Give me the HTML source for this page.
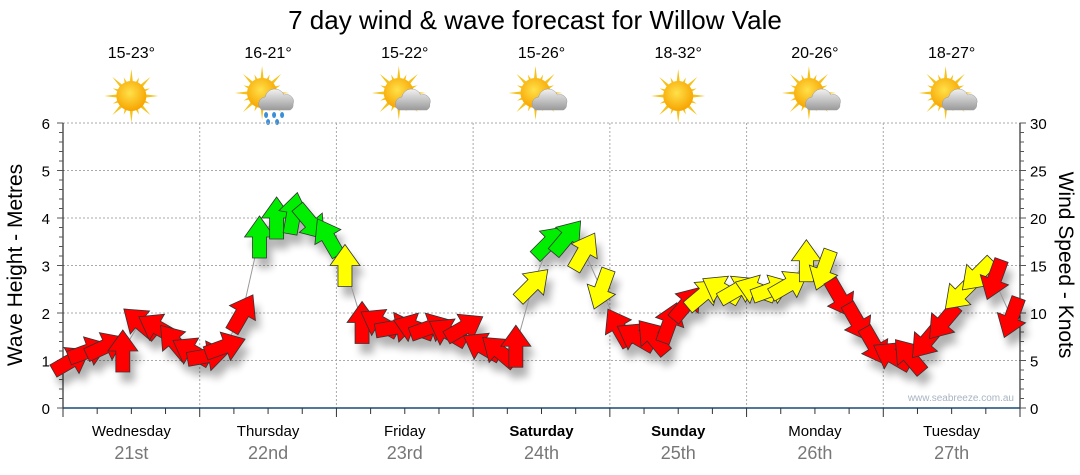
<!DOCTYPE html>
<html><head><meta charset="utf-8"><style>
html,body{margin:0;padding:0;background:#fff;}
body{width:1080px;height:475px;overflow:hidden;font-family:"Liberation Sans",sans-serif;}
svg{display:block}
</style></head><body>
<svg id="chart" width="1080" height="475" xmlns="http://www.w3.org/2000/svg">
<defs>
<filter id="sh" x="-50%" y="-50%" width="200%" height="200%"><feGaussianBlur stdDeviation="4"/></filter>
<radialGradient id="sunG" cx="45%" cy="40%" r="60%"><stop offset="0" stop-color="#ffe14a"/><stop offset="1" stop-color="#f7a400"/></radialGradient>
<linearGradient id="cloudG" x1="0" y1="0" x2="0" y2="1"><stop offset="0" stop-color="#f2f2f2"/><stop offset="1" stop-color="#9a9a9a"/></linearGradient>
</defs>
<text x="535" y="29" font-size="26" text-anchor="middle" fill="#000">7 day wind &amp; wave forecast for Willow Vale</text>
<g id="icons"></g>
<g id="grid"></g>
<g id="axes"></g>
<g id="shadows" filter="url(#sh)" opacity="0.3"></g>
<polyline id="waveLine" fill="none" stroke="#999" stroke-width="1"/>
<g id="arrows"></g>
<text x="1014" y="401" font-size="10" text-anchor="end" fill="#a8b4c4">www.seabreeze.com.au</text>
<text transform="translate(22,265) rotate(-90)" font-size="21" text-anchor="middle">Wave Height - Metres</text>
<text transform="translate(1059,265) rotate(90)" font-size="21" text-anchor="middle">Wind Speed - Knots</text>
</svg>
<script>
const days=["Wednesday","Thursday","Friday","Saturday","Sunday","Monday","Tuesday"];
const dates=["21st","22nd","23rd","24th","25th","26th","27th"];
const boldDays=[false,false,false,true,true,false,false];
const temps=["15-23°","16-21°","15-22°","15-26°","18-32°","20-26°","18-27°"];
const weather=["sun","rain","cloud","cloud","sun","cloud","cloud"];
const waveH=[1.0,1.2,1.3,1.2,1.8,1.7,1.4,1.2,
 1.1,1.3,2.0,3.6,4.0,4.1,3.9,3.6,
 3.0,1.8,1.8,1.7,1.7,1.7,1.6,1.7,
 1.3,1.2,1.3,2.6,3.5,3.6,3.3,2.5,
 1.7,1.5,1.5,1.8,2.2,2.4,2.5,2.5,
 2.5,2.5,2.6,3.1,2.9,2.3,1.8,1.3,
 1.1,1.1,1.4,1.8,2.4,2.8,2.7,1.9];
const windDir=[60,70,65,0,310,300,320,300,
 80,70,30,0,0,10,140,330,
 0,0,300,80,290,70,300,60,
 300,310,0,45,45,40,30,200,
 330,300,320,20,40,50,300,60,
 290,70,60,0,200,150,150,150,
 300,320,220,220,225,225,200,200];
const windCat=["R","R","R","R","R","R","R","R",
 "R","R","R","G","G","G","G","G",
 "Y","R","R","R","R","R","R","R",
 "R","R","R","Y","G","G","Y","Y",
 "R","R","R","R","R","Y","Y","Y",
 "Y","Y","Y","Y","Y","R","R","R",
 "R","R","R","R","Y","Y","R","R"];
const leftTicks=[0,1,2,3,4,5,6];
const rightTicks=[0,5,10,15,20,25,30];

const NS="http://www.w3.org/2000/svg";
const X0=63,X1=1020,Y0=408,Y1=123,HOURS=168;
const xs=h=>X0+h*(X1-X0)/HOURS;
const yL=v=>Y0-v*(Y0-Y1)/6;
const yR=v=>Y0-v*(Y0-Y1)/30;
function mk(tag,attrs,parent){const e=document.createElementNS(NS,tag);for(const k in attrs)e.setAttribute(k,attrs[k]);parent.appendChild(e);return e;}
const grid=document.getElementById('grid'),axes=document.getElementById('axes'),icons=document.getElementById('icons');
leftTicks.forEach(v=>{if(v>0){const l=mk('line',{x1:X0,x2:X1,y1:yL(v),y2:yL(v),stroke:'#aaa','stroke-dasharray':'2,2'},grid);

}});
for(let d=1;d<=7;d++){const l=mk('line',{x1:xs(d*24),x2:xs(d*24),y1:Y1,y2:Y0,stroke:'#aaa','stroke-dasharray':'2,2'},grid);

}
mk('line',{x1:X0,x2:X0,y1:Y1,y2:Y0,stroke:'#000'},axes);
mk('line',{x1:X1,x2:X1,y1:Y1,y2:Y0,stroke:'#000'},axes);
mk('line',{x1:X0,x2:X1,y1:Y0,y2:Y0,stroke:'#1a4a7a','stroke-width':1.5},axes);
for(let i=0;i<=30;i++){const v=i/5;const y=yL(v);mk('line',{x1:X0-(i%5?4:6),x2:X0,y1:y,y2:y,stroke:'#555'},axes);}
for(let i=0;i<=30;i++){const y=yR(i);mk('line',{x1:X1,x2:X1+(i%5?4:6),y1:y,y2:y,stroke:'#555'},axes);}
leftTicks.forEach(v=>{const t=mk('text',{x:X0-13,y:yL(v)+6,'font-size':15,'text-anchor':'end'},axes);t.textContent=v;

});
rightTicks.forEach(v=>{const t=mk('text',{x:X1+10,y:yR(v)+6,'font-size':15},axes);t.textContent=v;

});
for(let h=0;h<=HOURS;h+=6){const big=h%24===0;mk('line',{x1:xs(h),x2:xs(h),y1:Y0,y2:Y0+(big?9:6),stroke:'#333'},axes);}
days.forEach((d,i)=>{const cx=xs(i*24+12);
const t=mk('text',{x:cx,y:436,'font-size':15,'text-anchor':'middle','font-weight':boldDays[i]?'bold':'normal'},axes);t.textContent=d;


const t2=mk('text',{x:cx,y:459,'font-size':18,'text-anchor':'middle',fill:'#777'},axes);t2.textContent=dates[i];


const t3=mk('text',{x:cx,y:58,'font-size':16,'text-anchor':'middle'},icons);t3.textContent=temps[i];


const g=mk('g',{transform:`translate(${cx},96)`},icons);


const sx=weather[i]==='sun'?0:-6,sy=weather[i]==='sun'?0:-3;
for(let k=0;k<16;k++){const a=k*Math.PI/8,r=k%2?20:27;
mk('polygon',{points:`${sx+Math.cos(a-0.18)*11},${sy+Math.sin(a-0.18)*11} ${sx+Math.cos(a)*r},${sy+Math.sin(a)*r} ${sx+Math.cos(a+0.18)*11},${sy+Math.sin(a+0.18)*11}`,fill:'#f5c21a'},g);}
mk('circle',{cx:sx,cy:sy,r:15,fill:'url(#sunG)'},g);
if(weather[i]!=='sun'){mk('path',{d:'M-6,14 a7,7 0 0 1 3,-13 a10,10 0 0 1 19,-2 a7,7 0 0 1 9,9 a6,6 0 0 1 -3,6 z',fill:'url(#cloudG)',stroke:'#999','stroke-width':0.5},g);}
if(weather[i]==='rain'){[[-2,19],[6,19],[14,19],[0,26],[9,26]].forEach(p=>mk('ellipse',{cx:p[0],cy:p[1],rx:2,ry:3,fill:'#3a8fd8'},g));}
});
const colMap={R:'#ff0000',Y:'#ffff00',G:'#00ee00'};
const arrows=document.getElementById('arrows'),shadows=document.getElementById('shadows');
const pts=[];
const shape='M-7,21 L-7,0 L-15,0 L0,-21 L15,0 L7,0 L7,21 Z';
waveH.forEach((v,i)=>{const x=xs(i*3+1.5),y=yL(v);pts.push(x.toFixed(1)+','+y.toFixed(1));
mk('path',{d:shape,transform:`translate(${x+5},${y+10}) rotate(${windDir[i]})`,fill:'#000'},shadows);
});
// draw twice with slight offsets for density: main arrow per data point
waveH.forEach((v,i)=>{const x=xs(i*3+1.5),y=yL(v);
const a=mk('path',{d:shape,transform:`translate(${x},${y}) rotate(${windDir[i]})`,fill:colMap[windCat[i]],stroke:'#333','stroke-width':0.8},arrows);

});
document.getElementById('waveLine').setAttribute('points',pts.join(' '));
</script>
</body></html>
